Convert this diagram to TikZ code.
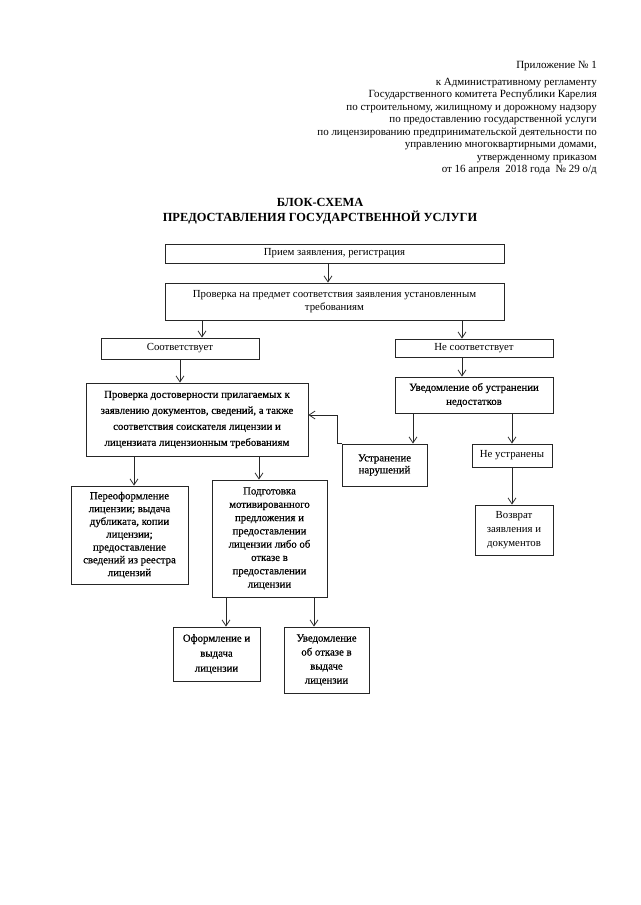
\documentclass[tikz,border=0pt]{standalone}
\usepackage{fontspec}
\setmainfont{Liberation Serif}
\newfontfamily\darkserif{Liberation Serif}[FakeBold=0.6]
\usetikzlibrary{arrows.meta}
\begin{document}
\begin{tikzpicture}[x=1pt,y=-1pt,
  box/.style={draw=black!85, line width=0.8pt, inner sep=0pt, align=center,
    font=\fontsize{10.8}{13}\selectfont},
  dark/.style={font=\darkserif\fontsize{10.8}{#1}\selectfont},
  arr/.style={draw=black!85, line width=0.8pt, -{Straight Barb[length=6pt,width=8pt]}},
  hdr/.style={inner sep=0pt, align=right, font=\fontsize{11}{12.5}\selectfont},
  ttl/.style={inner sep=0pt, align=center, font=\fontsize{12.4}{14.5}\selectfont\bfseries}]
\useasboundingbox (0,0) rectangle (640,905);
% header
\node[hdr, anchor=east] (h1) at (597,66) {Приложение № 1};
\node[hdr, anchor=north east] (h2) at (597,78) {к Административному регламенту\\
Государственного комитета Республики Карелия\\
по строительному, жилищному и дорожному надзору\\
по предоставлению государственной услуги\\
по лицензированию предпринимательской деятельности по\\
управлению многоквартирными домами,\\
утвержденному приказом\\
от 16 апреля\ \ 2018 года\ \ № 29 о/д};
% title
\node[ttl] (t) at (320,211) {БЛОК-СХЕМА\\ПРЕДОСТАВЛЕНИЯ ГОСУДАРСТВЕННОЙ УСЛУГИ};
% boxes
\node[box, minimum width=339, minimum height=19] (b1) at (334.5,253.5) {Прием заявления, регистрация};
\node[box, minimum width=339, minimum height=37, font=\fontsize{10.8}{12.5}\selectfont] (b2) at (334.5,301.5) {Проверка на предмет соответствия заявления установленным\\требованиям};
\node[box, minimum width=158, minimum height=21] (s1) at (180,348.5) {Соответствует};
\node[box, minimum width=158, minimum height=18] (s2) at (474,348) {Не соответствует};
\node[box, minimum width=222, minimum height=73, dark=16] (b3) at (197,419.5) {Проверка достоверности прилагаемых к\\заявлению документов, сведений, а также\\соответствия соискателя лицензии и\\лицензиата лицензионным требованиям};
\node[box, minimum width=158, minimum height=36, dark=14] (uv) at (474,395) {Уведомление об устранении\\недостатков};
\node[box, minimum width=85, minimum height=42, dark=12] (us) at (384.5,465) {Устранение\\нарушений};
\node[box, minimum width=80, minimum height=23] (nu) at (512,455.5) {Не устранены};
\node[box, minimum width=78, minimum height=50, font=\fontsize{10.8}{14}\selectfont] (vz) at (514,530) {Возврат\\заявления и\\документов};
\node[box, minimum width=117, minimum height=98, dark=12.8] (pf) at (129.5,535) {Переоформление\\лицензии; выдача\\дубликата, копии\\лицензии;\\предоставление\\сведений из реестра\\лицензий};
\node[box, minimum width=115, minimum height=117, dark=13.3] (pd) at (269.5,538.5) {Подготовка\\мотивированного\\предложения и\\предоставлении\\лицензии либо об\\отказе в\\предоставлении\\лицензии};
\node[box, minimum width=87, minimum height=54, dark=15] (of) at (216.5,654) {Оформление и\\выдача\\лицензии};
\node[box, minimum width=85, minimum height=66, dark=14] (uo) at (326.5,660) {Уведомление\\об отказе в\\выдаче\\лицензии};
% x positions of connectors
\coordinate (c1) at (328,0);
\coordinate (c2) at (202,0);
\coordinate (c3) at (462,0);
\coordinate (c4) at (180,0);
\coordinate (c5) at (413,0);
\coordinate (c6) at (512,0);
\coordinate (c7) at (134,0);
\coordinate (c8) at (259,0);
\coordinate (c9) at (226,0);
\coordinate (c10) at (314,0);
\coordinate (fb) at (337,415);
% connectors
\draw[arr] (b1.south -| c1) -- (b2.north -| c1);
\draw[arr] (b2.south -| c2) -- (s1.north -| c2);
\draw[arr] (b2.south -| c3) -- (s2.north -| c3);
\draw[arr] (s1.south -| c4) -- (b3.north -| c4);
\draw[arr] (s2.south -| c3) -- (uv.north -| c3);
\draw[arr] (uv.south -| c5) -- (us.north -| c5);
\draw[arr] (uv.south -| c6) -- (nu.north -| c6);
\draw[arr] (nu.south -| c6) -- (vz.north -| c6);
\draw[arr] (us.north west) -- (us.north west -| fb) -- (fb) -- (b3.east |- fb);
\draw[arr] (b3.south -| c7) -- (pf.north -| c7);
\draw[arr] (b3.south -| c8) -- (pd.north -| c8);
\draw[arr] (pd.south -| c9) -- (of.north -| c9);
\draw[arr] (pd.south -| c10) -- (uo.north -| c10);
\end{tikzpicture}
\end{document}
